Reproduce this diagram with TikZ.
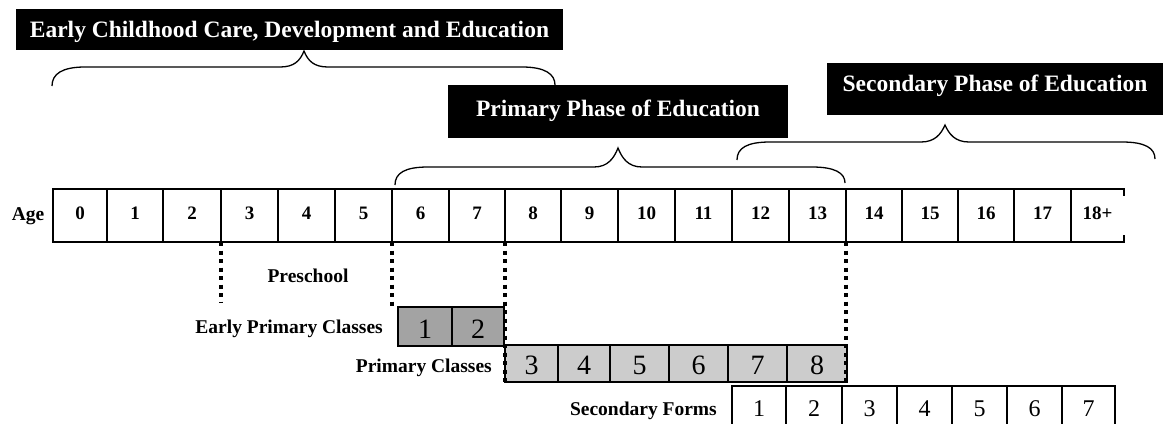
\documentclass[tikz,border=0pt]{standalone}
\usepackage{fontspec}
\setmainfont{Liberation Serif}
\begin{document}
\begin{tikzpicture}[x=1pt,y=-1pt,
  title/.style={fill=black,text=white,font=\fontsize{23.5}{26}\selectfont\bfseries,inner sep=0pt,outer sep=0pt},
  agecell/.style={draw,line width=1.1pt,inner sep=0pt,outer sep=0pt,minimum height=53pt,text height=30.3pt,text depth=22.7pt,font=\fontsize{19}{22}\selectfont\bfseries},
  lab/.style={font=\fontsize{19.5}{22}\selectfont\bfseries,inner sep=0pt},
  early/.style={draw,line width=1.1pt,fill=black!36,inner sep=0pt,outer sep=0pt,minimum height=39pt,text height=31.3pt,text depth=7.7pt,font=\fontsize{28}{30}\selectfont},
  prim/.style={draw,line width=1.1pt,fill=black!20,inner sep=0pt,outer sep=0pt,minimum height=37pt,text height=29pt,text depth=8pt,font=\fontsize{28}{30}\selectfont},
  secbox/.style={draw,line width=1.1pt,inner sep=0pt,outer sep=0pt,minimum height=44pt,text height=30.7pt,text depth=13.3pt,font=\fontsize{24}{26}\selectfont},
  bracepath/.style={line width=1.3pt},
  dotline/.style={line width=4pt,dash pattern=on 4pt off 4.5pt}
]
\clip (0,0) rectangle (1169,423);
\fill[white] (0,0) rectangle (1169,423);

% titles
\node[title,minimum width=547pt,minimum height=41pt,text height=28.7pt,text depth=12.3pt] (t1) at (289.5,29.5) {Early Childhood Care, Development and Education};
\node[title,minimum width=340pt,minimum height=53pt,text height=31.7pt,text depth=21.3pt] (t2) at (618,111.5) {Primary Phase of Education};
\node[title,minimum width=336pt,minimum height=52pt,text height=28.7pt,text depth=23.3pt] (t3) at (995,89) {Secondary Phase of Education};

% braces
\draw[bracepath] (52,86) .. controls (52,74) and (62,67) .. (85,67) -- (280,67)
  .. controls (294,67) and (300,61) .. (304,51)
  .. controls (308,61) and (314,67) .. (328,67) -- (522,67)
  .. controls (545,67) and (555,74) .. (555,85);
\draw[bracepath] (395,185) .. controls (395,173) and (405,167) .. (428,167) -- (594,167)
  .. controls (608,167) and (614,158) .. (618,148)
  .. controls (622,158) and (628,167) .. (642,167) -- (812,167)
  .. controls (835,167) and (845,173) .. (845,183);
\draw[bracepath] (737,160) .. controls (737,148) and (747,142) .. (770,142) -- (921,142)
  .. controls (935,142) and (941,134) .. (945,125)
  .. controls (949,134) and (955,142) .. (969,142) -- (1122,142)
  .. controls (1145,142) and (1155,148) .. (1155,159);

% age row
\node[lab,anchor=base] (agelab) at (28,220) {Age};
\foreach \l/\r/\t [count=\i] in {53/107/0,107/163/1,163/221/2,221/278/3,278/335/4,335/392/5,392/449/6,449/505/7,505/561/8,561/618/9,618/675/10,675/732/11,732/789/12,789/846/13,846/902/14,902/958/15,958/1014/16,1014/1071/17}
  \node[agecell,minimum width={(\r-\l)*1pt}] (age\i) at ({(\l+\r)/2},215.5) {\t};
\node[agecell,draw=none,minimum width=53pt] (age19) at (1097.5,215.5) {18+};
\draw[line width=1.1pt] (age18.north east) -- (age19.north east) -- ++(0,7);
\draw[line width=1.1pt] (age18.south east) -- (age19.south east) -- ++(0,-7);

% early primary classes
\node[early,minimum width=54pt] (eb1) at (425,326.5) {1};
\node[early,minimum width=52pt] (eb2) at (478,326.5) {2};

% primary classes
\foreach \l/\r/\t [count=\i] in {505/558/3,558/610/4,610/669/5,669/728/6,728/787/7,787/847/8}
  \node[prim,minimum width={(\r-\l)*1pt}] (pc\i) at ({(\l+\r)/2},363.5) {\t};

% secondary forms
\foreach \l/\r/\t [count=\i] in {732/786/1,786/842/2,842/897/3,897/952/4,952/1007/5,1007/1062/6,1062/1115/7}
  \node[secbox,minimum width={(\r-\l)*1pt}] (sf\i) at ({(\l+\r)/2},408) {\t};

% labels
\node[lab,anchor=base] (pre) at (308,282) {Preschool};
\node[lab,anchor=base east] (eplab) at (383,333) {Early Primary Classes};
\node[lab,anchor=base east] (pclab) at (492,372.7) {Primary Classes};
\node[lab,anchor=base east] (sflab) at (717,415) {Secondary Forms};

% dotted boundaries
\draw[dotline] (age3.south east) -- ++(0,60);
\draw[dotline] (age6.south east) -- ++(0,66);
\draw[dotline] (age8.south east) -- (age8.south east |- pc1.south west);
\draw[dotline] (age14.south east) -- (age14.south east |- pc6.south east);
\end{tikzpicture}
\end{document}
